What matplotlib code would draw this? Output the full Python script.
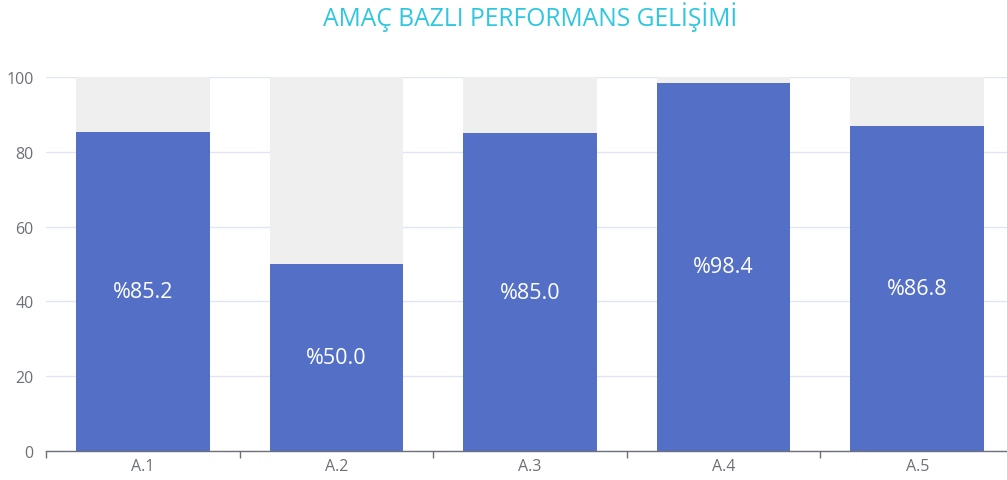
import matplotlib
matplotlib.use("Agg")
import matplotlib.pyplot as plt

categories = ["A.1", "A.2", "A.3", "A.4", "A.5"]
values = [85.2, 50.0, 85.0, 98.4, 86.8]
background = [100, 100, 100, 100, 100]
yticks = [0, 20, 40, 60, 80, 100]

plt.rcParams['font.family'] = ['Open Sans', 'DejaVu Sans']

fig = plt.figure(figsize=(10.07, 4.81), dpi=100)
W, H = 1007, 481
left, right = 46, 1014
top, bottom = 78, 452
ax = fig.add_axes([left / W, 1 - bottom / H, (right - left) / W, (bottom - top) / H])

x = list(range(len(categories)))
bw = 0.69
ax.bar(x, background, width=bw, color="#efefef", zorder=1)
bars = ax.bar(x, values, width=bw, color="#5470c6", zorder=2)
for xi, v in zip(x, values):
    ax.text(xi, v / 2, f"%{v:.1f}", ha="center", va="center", color="white",
            fontsize=15.5, zorder=3)

ax.set_xlim(-0.5, len(categories) - 0.5)
ax.set_ylim(0, 100)
ax.set_yticks(yticks)
ax.set_yticklabels([str(t) for t in yticks])
ax.set_xticks(x)
ax.set_xticklabels(categories)
ax.set_xticks([i + 0.5 for i in range(-1, len(categories))], minor=True)

ax.grid(axis="y", color="#e0e6f1", linewidth=1, zorder=0)
ax.set_axisbelow(True)
for s in ["top", "right", "left"]:
    ax.spines[s].set_visible(False)
ax.spines["bottom"].set_color("#6e7079")
ax.spines["bottom"].set_linewidth(1)
ax.spines["bottom"].set_zorder(4)

ax.tick_params(axis="y", length=0, pad=9, labelsize=11.5, labelcolor="#6e7079")
ax.tick_params(axis="x", which="major", length=0, pad=5, labelsize=11.5, labelcolor="#6e7079")
ax.tick_params(axis="x", which="minor", length=5, color="#6e7079", width=1)

fig.text(530 / W, 1 - 17 / H, "AMAÇ BAZLI PERFORMANS GELİŞİMİ", ha="center", va="center",
         color="#2ec7e0", fontsize=17.7)

fig.savefig("out.png", dpi=100)
